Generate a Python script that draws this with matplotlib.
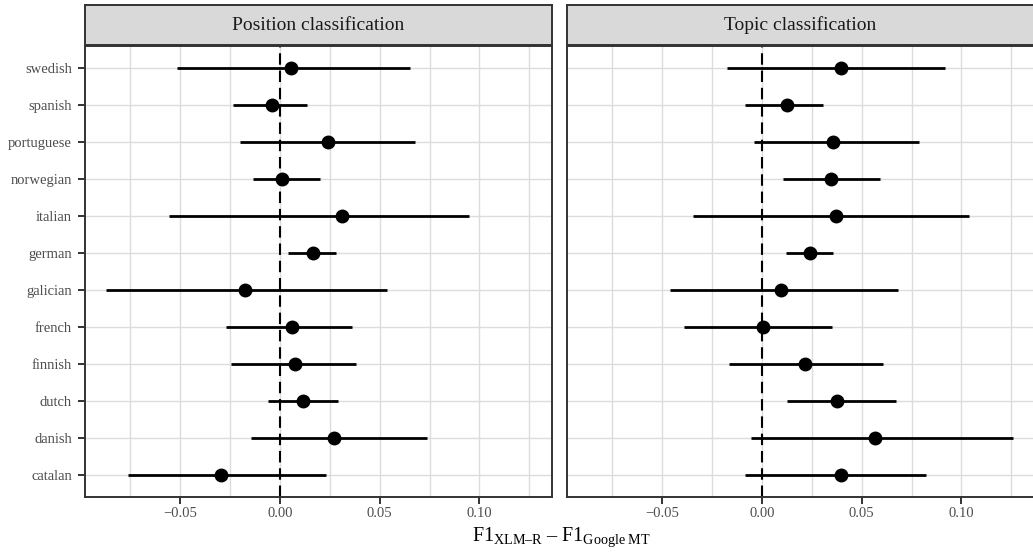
import matplotlib
matplotlib.use("Agg")
import matplotlib.pyplot as plt
from matplotlib.ticker import FixedLocator

plt.rcParams['font.family'] = ['Liberation Serif', 'DejaVu Serif']
plt.rcParams['mathtext.fontset'] = 'custom'
plt.rcParams['mathtext.rm'] = 'Liberation Serif'
plt.rcParams['mathtext.it'] = 'Liberation Serif:italic'

languages = ["catalan", "danish", "dutch", "finnish", "french", "galician",
             "german", "italian", "norwegian", "portuguese", "spanish", "swedish"]

panels = ["Position classification", "Topic classification"]

pos_est = [-0.0293, 0.0270, 0.0117, 0.0077, 0.0062, -0.0177,
           0.0165, 0.0312, 0.0010, 0.0242, -0.0040, 0.0055]
pos_lo = [-0.0760, -0.0147, -0.0058, -0.0243, -0.0272, -0.0870,
          0.0043, -0.0553, -0.0133, -0.0198, -0.0233, -0.0513]
pos_hi = [0.0233, 0.0735, 0.0293, 0.0383, 0.0363, 0.0535,
          0.0283, 0.0950, 0.0200, 0.0678, 0.0138, 0.0650]

top_est = [0.0397, 0.0565, 0.0375, 0.0215, 0.0005, 0.0097,
           0.0243, 0.0370, 0.0347, 0.0355, 0.0127, 0.0397]
top_lo = [-0.0083, -0.0057, 0.0128, -0.0167, -0.0388, -0.0462,
          0.0123, -0.0347, 0.0108, -0.0038, -0.0087, -0.0175]
top_hi = [0.0823, 0.1257, 0.0672, 0.0608, 0.0353, 0.0683,
          0.0358, 0.1038, 0.0590, 0.0785, 0.0308, 0.0917]

x_ticks = [-0.05, 0.00, 0.05, 0.10]
x_ticklabels = ["\u22120.05", "0.00", "0.05", "0.10"]
x_minor = [-0.075, -0.025, 0.025, 0.075, 0.125]

W, H = 1033, 554
fig = plt.figure(figsize=(W / 100, H / 100), dpi=100)

def fx(px):
    return px / W

def fy(py):
    return 1 - py / H

panel_top, panel_bot = 46, 497
strip_top = 5
boxes = [(85, 552), (567, 1034)]
data = [(pos_est, pos_lo, pos_hi), (top_est, top_lo, top_hi)]

lo_all = min(min(pos_lo), min(top_lo))
hi_all = max(max(pos_hi), max(top_hi))
rng = hi_all - lo_all
xlim = (lo_all - 0.05 * rng, hi_all + 0.05 * rng)

border = "#333333"
grid_c = "#DCDCDC"
label_c = "#4D4D4D"

for i, ((x0, x1), (est, lo, hi), title) in enumerate(zip(boxes, data, panels)):
    ax = fig.add_axes([fx(x0), fy(panel_bot), fx(x1) - fx(x0), fy(panel_top) - fy(panel_bot)])
    y = list(range(1, len(languages) + 1))
    ax.set_xlim(*xlim)
    ax.set_ylim(0.4, len(languages) + 0.6)
    ax.set_axisbelow(True)
    ax.xaxis.set_major_locator(FixedLocator(x_ticks))
    ax.xaxis.set_minor_locator(FixedLocator(x_minor))
    ax.set_xticklabels(x_ticklabels)
    ax.set_yticks(y)
    ax.grid(True, which='major', color=grid_c, lw=1.0)
    ax.grid(True, which='minor', axis='x', color=grid_c, lw=1.0)
    ax.axvline(0, color='black', lw=1.5, ls=(0, (5.5, 2.8)), zorder=2)
    ax.hlines(y, lo, hi, color='black', lw=2.0, zorder=3)
    ax.plot(est, y, 'o', color='black', ms=9, zorder=4)
    for s in ax.spines.values():
        s.set_color(border)
        s.set_linewidth(1.4)
    ax.tick_params(axis='x', which='major', length=5, width=1.4, color=border,
                   labelsize=10.5, labelcolor=label_c, pad=2.5)
    ax.tick_params(axis='x', which='minor', length=0)
    if i == 0:
        ax.set_yticklabels(languages)
        ax.tick_params(axis='y', length=5, width=1.4, color=border,
                       labelsize=10.5, labelcolor=label_c, pad=4.5)
    else:
        ax.set_yticklabels([])
        ax.tick_params(axis='y', length=0)

    sax = fig.add_axes([fx(x0), fy(panel_top - 1), fx(x1) - fx(x0), fy(strip_top) - fy(panel_top - 1)])
    sax.set_facecolor("#D9D9D9")
    sax.set_xticks([])
    sax.set_yticks([])
    for s in sax.spines.values():
        s.set_color(border)
        s.set_linewidth(1.4)
    sax.text(0.5, 0.5, title, ha='center', va='center', fontsize=14,
             color='#1A1A1A', transform=sax.transAxes)

xlabel = ("$\\mathrm{F1}_{\\mathrm{XLM\u2013R}}\\ \u2013\\ "
          "\\mathrm{F1}_{\\mathrm{Google\\ MT}}$")
fig.text(fx(561), fy(537), xlabel, ha='center', va='center', fontsize=14.5, color='black')

fig.savefig("out.png", dpi=100)
